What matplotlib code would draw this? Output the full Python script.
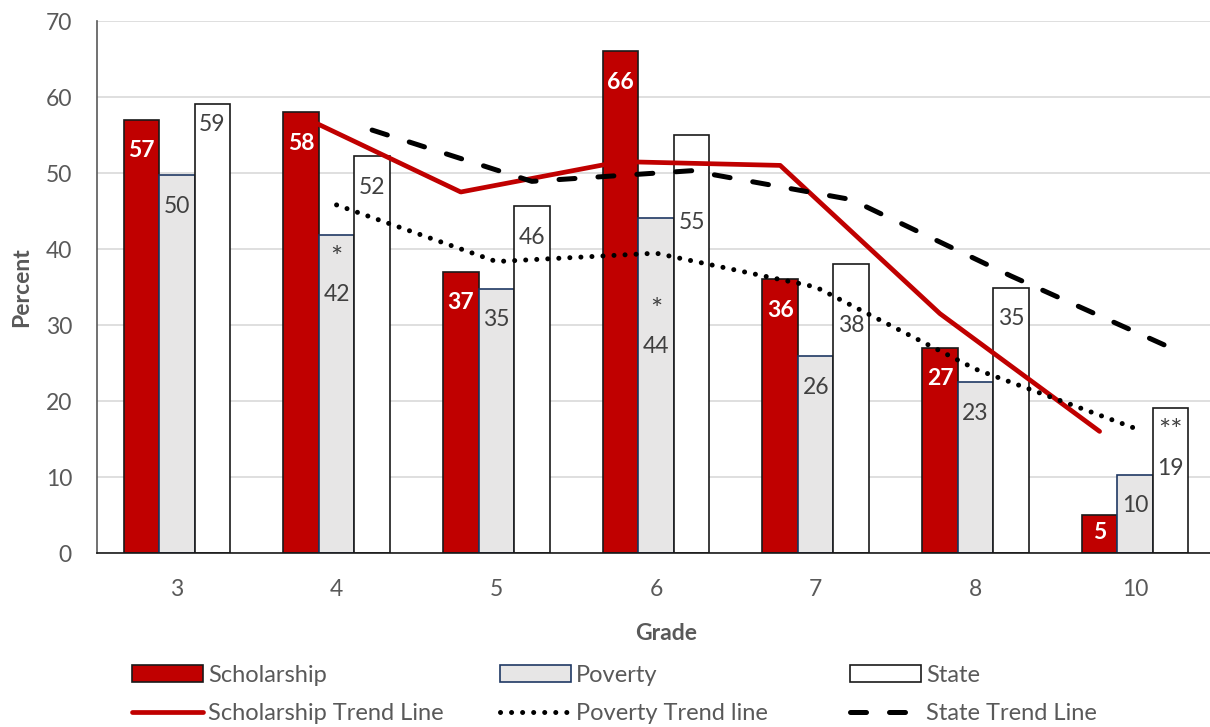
import matplotlib
matplotlib.use('Agg')
import matplotlib.pyplot as plt
import numpy as np
from matplotlib.patches import Patch
from matplotlib.lines import Line2D

# ---- data ----
grades = ['3', '4', '5', '6', '7', '8', '10']
scholarship = [57, 58, 37, 66, 36, 27, 5]
poverty = [49.7, 41.9, 34.8, 44.1, 25.9, 22.5, 10.3]
state = [59.1, 52.2, 45.6, 55.0, 38.0, 34.9, 19.1]
scholarship_labels = ['57', '58', '37', '66', '36', '27', '5']
poverty_labels = ['50', '*\n42', '35', '*\n44', '26', '23', '10']
state_labels = ['59', '52', '46', '55', '38', '35', '**\n19']
yticks = [0, 10, 20, 30, 40, 50, 60, 70]


def moving_avg(v):
    # Excel 2-period moving-average trendline
    return [(v[i - 1] + v[i]) / 2 for i in range(1, len(v))]


plt.rcParams['font.family'] = ['Lato', 'DejaVu Sans']
TXT = '#595959'
LBL = '#404040'
RED = '#C00000'

W, H = 1210, 727
fig = plt.figure(figsize=(W / 100, H / 100), dpi=100)
ax = fig.add_axes([97 / W, 1 - 553 / H, (1215 - 97) / W, (553 - 21) / H])

x = np.arange(len(grades))
w = 0.2225

ax.bar(x - w, scholarship, w, color=RED, edgecolor='#1a1a1a', linewidth=1.2, zorder=2)
ax.bar(x, poverty, w, color='#E7E6E6', edgecolor='#1F3864', linewidth=1.2, zorder=2)
ax.bar(x + w, state, w, color='white', edgecolor='#1a1a1a', linewidth=1.2, zorder=2)

red_style = dict(color=RED, lw=3.4, solid_capstyle='round')
dot_style = dict(color='black', lw=3.6, linestyle=(0, (0.01, 2.2)), dash_capstyle='round')
dash_style = dict(color='black', lw=3.6, linestyle=(0, (3.2, 4.6)), dash_capstyle='round')

ax.plot(x[1:] - w, moving_avg(scholarship), zorder=4, **red_style)
ax.plot(x[1:], moving_avg(poverty), zorder=4, **dot_style)
ax.plot(x[1:] + w, moving_avg(state), zorder=4, **dash_style)

ax.set_xlim(-0.5, len(grades) - 0.5)
ax.set_ylim(0, 70)

FS = 16.5
PT = 0.75  # points per pixel at dpi 100
ppu = (553 - 21) / 70.0  # pixels per data unit

# label placement (pixels below bar top: number baseline, asterisk centre)
DEFAULT_OFF = (36, None)
STAR_OFF = (64, 23)
label_off = {
    ('pov', 3): (130, 89),
    ('sta', 0): (26, None),
    ('sta', 3): (90, None),
    ('sta', 4): (65, None),
}


def put_label(key, xc, val, text, color, bold=False):
    parts = text.split('\n')
    num = parts[-1]
    star = parts[0] if len(parts) > 1 else None
    top_px = val * ppu
    base_off, star_off = label_off.get(key, STAR_OFF if star else DEFAULT_OFF)
    # keep the label inside the bar (as Excel does for short bars)
    base_off = min(base_off, top_px - 15)
    ax.annotate(num, (xc, val), xytext=(0, -base_off * PT), textcoords='offset points',
                ha='center', va='baseline', color=color, fontsize=FS,
                fontweight='bold' if bold else 'normal', zorder=5)
    if star:
        ax.annotate(star, (xc, val), xytext=(0, -star_off * PT), textcoords='offset points',
                    ha='center', va='center', color=color, fontsize=FS * 1.25, zorder=5)


for i in range(len(grades)):
    put_label(('sch', i), x[i] - w, scholarship[i], scholarship_labels[i], 'white', bold=True)
    put_label(('pov', i), x[i], poverty[i], poverty_labels[i], LBL)
    put_label(('sta', i), x[i] + w, state[i], state_labels[i], LBL)

ax.set_yticks(yticks)
ax.set_xticks(x)
ax.set_xticklabels(grades)
ax.tick_params(axis='both', length=0, labelsize=FS, colors=TXT)
ax.tick_params(axis='x', pad=19)
ax.tick_params(axis='y', pad=18)
ax.yaxis.grid(True, color='#D9D9D9', lw=1.2, zorder=0)
ax.set_axisbelow(True)
for s in ['top', 'right']:
    ax.spines[s].set_visible(False)
ax.spines['left'].set_color('#595959')
ax.spines['bottom'].set_color('#1a1a1a')
ax.spines['left'].set_linewidth(1.2)
ax.spines['bottom'].set_linewidth(1.2)

fig.text(22 / W, 1 - 287 / H, 'Percent', rotation=90, ha='center', va='center',
         fontsize=FS, fontweight='bold', color=TXT)
fig.text(666 / W, 1 - 633 / H, 'Grade', ha='center', va='center',
         fontsize=FS, fontweight='bold', color=TXT)

# legend, built as three columns
h_sch = Patch(facecolor=RED, edgecolor='#1a1a1a', linewidth=1.2)
h_pov = Patch(facecolor='#E7E6E6', edgecolor='#1F3864', linewidth=1.2)
h_sta = Patch(facecolor='white', edgecolor='#1a1a1a', linewidth=1.2)
h_scht = Line2D([], [], **red_style)
h_povt = Line2D([], [], **dot_style)
h_stat = Line2D([], [], **dash_style)

LFS = 17
fpx = LFS / PT
cols = [
    (132, [h_sch, h_scht], ['Scholarship', 'Scholarship Trend Line']),
    (500, [h_pov, h_povt], ['Poverty', 'Poverty Trend line']),
    (850, [h_sta, h_stat], ['State', 'State Trend Line']),
]
for xpx, hs, ls in cols:
    fig.legend(handles=hs, labels=ls, loc='upper left',
               bbox_to_anchor=(xpx / W, 1 - 665 / H), frameon=False,
               fontsize=LFS, labelcolor=TXT, handlelength=68 / fpx, handleheight=16 / fpx,
               handletextpad=5 / fpx, borderpad=0, borderaxespad=0, labelspacing=0.72)

fig.savefig('out.png', dpi=100)
